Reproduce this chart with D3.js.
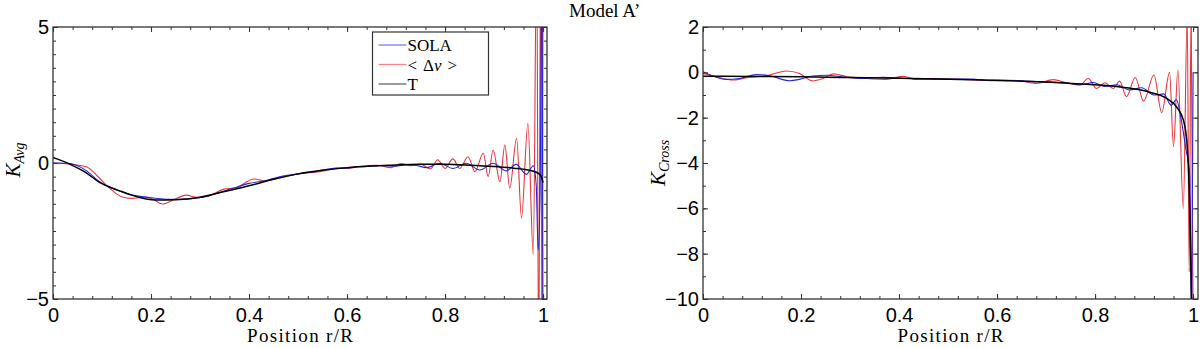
<!DOCTYPE html>
<html>
<head>
<meta charset="utf-8">
<script src="https://cdn.jsdelivr.net/npm/d3@7"></script>
<style>
  body { margin: 0; background: #fff; }
  svg { display: block; }
  .tick text { font-family: "Liberation Sans", Arial, sans-serif; font-size: 20px; fill: #000; }
  .tick line { stroke: #333; }
  .serif { font-family: "Liberation Serif", "DejaVu Serif", serif; fill: #000; }
</style>
</head>
<body>
<svg id="chart" width="1200" height="348"></svg>
<script>
// tick values
const xTicks = [0, 0.2, 0.4, 0.6, 0.8, 1];
const xMinor = d3.range(0, 1.001, 0.04);
const avgYTicks = [-5, 0, 5];
const avgYMinor = d3.range(-5, 5.01, 0.5);
const crossYTicks = [-10, -8, -6, -4, -2, 0, 2];
const crossYMinor = d3.range(-10, 2.01, 1);

const seriesNames = ['SOLA', '< Δν >', 'T'];
const seriesColors = ['#2424d8', '#e5363c', '#000000'];

// K_Avg kernels, [r/R, K]
const avgSola = [[0,0],[0.03,-0.01],[0.068,-0.28],[0.095,-0.69],[0.13,-0.99],[0.163,-1.18],[0.197,-1.27],
  [0.231,-1.33],[0.265,-1.33],[0.299,-1.28],[0.333,-1.12],[0.367,-0.93],[0.4,-0.75],[0.43,-0.66],[0.469,-0.48],
  [0.5,-0.4],[0.53,-0.33],[0.55,-0.26],[0.57,-0.2],[0.6,-0.19],[0.62,-0.14],[0.64,-0.13],[0.67,-0.09],[0.7,-0.12],
  [0.72,-0.06],[0.74,-0.08],[0.762,-0.17],[0.789,-0.01],[0.816,-0.2],[0.843,-0.01],[0.871,-0.26],[0.898,-0.01],
  [0.925,-0.29],[0.945,-0.05],[0.966,-0.42],[0.98,-0.1],[0.986,-0.8],[0.99,-3.2],[0.994,-0.9],[0.998,8],[1.0,-8]];
const avgDnu = [[0,0],[0.034,-0.04],[0.068,-0.14],[0.095,-0.56],[0.112,-0.87],[0.14,-1.24],[0.16,-1.3],[0.19,-1.26],
  [0.204,-1.33],[0.224,-1.51],[0.245,-1.36],[0.272,-1.18],[0.293,-1.26],[0.313,-1.24],[0.347,-0.97],[0.374,-0.91],
  [0.41,-0.59],[0.435,-0.66],[0.469,-0.5],[0.5,-0.4],[0.55,-0.3],[0.58,-0.18],[0.6,-0.2],[0.63,-0.12],[0.66,-0.08],
  [0.69,-0.17],[0.71,-0.02],[0.73,-0.1],[0.75,-0.04],[0.77,-0.22],[0.785,0.12],[0.8,-0.2],[0.816,0.15],[0.83,-0.2],
  [0.847,0.23],[0.861,-0.32],[0.878,0.36],[0.888,-0.5],[0.898,0.48],[0.912,-0.69],[0.922,0.66],[0.932,-0.93],
  [0.946,0.91],[0.956,-2.03],[0.969,1.46],[0.98,-3.38],[0.987,8],[0.991,-8],[0.995,8],[0.998,-8],[1.0,8]];
const avgT = [[0,0.2],[0.034,-0.04],[0.064,-0.32],[0.095,-0.71],[0.12,-0.92],[0.14,-1.05],[0.16,-1.18],[0.19,-1.32],
  [0.21,-1.36],[0.25,-1.35],[0.3,-1.26],[0.35,-1.05],[0.4,-0.84],[0.45,-0.6],[0.5,-0.4],[0.55,-0.27],[0.6,-0.17],
  [0.65,-0.11],[0.7,-0.07],[0.75,-0.05],[0.8,-0.05],[0.85,-0.08],[0.9,-0.13],[0.94,-0.19],[0.97,-0.26],
  [0.985,-0.33],[0.995,-0.45],[1.0,-0.72]];

// K_Cross kernels, [r/R, K]
const crossSola = [[0,0.03],[0.048,-0.31],[0.075,-0.27],[0.109,-0.1],[0.136,-0.15],[0.177,-0.37],[0.197,-0.31],
  [0.224,-0.16],[0.252,-0.13],[0.279,-0.19],[0.32,-0.27],[0.367,-0.22],[0.415,-0.27],[0.469,-0.3],[0.503,-0.3],
  [0.55,-0.3],[0.58,-0.36],[0.62,-0.35],[0.66,-0.38],[0.7,-0.42],[0.74,-0.46],[0.77,-0.55],[0.796,-0.45],
  [0.82,-0.62],[0.845,-0.55],[0.87,-0.78],[0.895,-0.68],[0.92,-1.0],[0.94,-0.95],[0.955,-1.45],[0.966,-1.2],
  [0.975,-2.0],[0.985,-3.35],[0.993,-4.5],[0.997,-11],[1.0,0]];
const crossDnu = [[0,-0.05],[0.027,-0.19],[0.061,-0.34],[0.095,-0.22],[0.129,-0.15],[0.17,0.06],[0.197,-0.05],
  [0.224,-0.38],[0.245,-0.27],[0.266,-0.07],[0.293,-0.19],[0.333,-0.27],[0.374,-0.31],[0.408,-0.18],[0.435,-0.31],
  [0.469,-0.27],[0.503,-0.3],[0.55,-0.33],[0.6,-0.37],[0.64,-0.36],[0.681,-0.49],[0.715,-0.32],[0.74,-0.45],
  [0.769,-0.56],[0.786,-0.27],[0.803,-0.71],[0.82,-0.46],[0.837,-0.71],[0.85,-0.39],[0.864,-1.07],[0.882,-0.23],
  [0.899,-1.27],[0.92,-0.12],[0.936,-1.78],[0.952,0.0],[0.96,-3.28],[0.969,0.1],[0.98,-6.0],[0.988,2.5],
  [0.992,-8.8],[0.996,3],[1.0,-11]];
const crossT = [[0,-0.17],[0.1,-0.18],[0.2,-0.2],[0.3,-0.23],[0.4,-0.26],[0.503,-0.3],[0.571,-0.34],[0.64,-0.38],
  [0.708,-0.44],[0.776,-0.52],[0.844,-0.63],[0.885,-0.75],[0.912,-0.88],[0.946,-1.15],[0.966,-1.52],[0.98,-2.1],
  [0.987,-3.0],[0.991,-4.5],[0.994,-6.7],[0.997,-10.5]];

const svg = d3.select('#chart');
const plotTop = 27, plotBottom = 299;
const xFmt = d => (d === 0 || d === 1) ? String(d) : d.toFixed(1);

function drawPanel(cfg) {
  const x = d3.scaleLinear().domain([0, cfg.xMax]).range([cfg.left, cfg.right]);
  const y = d3.scaleLinear().domain(cfg.yDomain).range([plotBottom, plotTop]);
  const g = svg.append('g');

  g.append('clipPath').attr('id', cfg.id)
    .append('rect')
    .attr('x', cfg.left).attr('y', plotTop)
    .attr('width', cfg.right - cfg.left).attr('height', plotBottom - plotTop);

  const line = d3.line()
    .x(d => x(d[0]))
    .y(d => y(d[1]))
    .curve(d3.curveMonotoneX);

  // red first, then blue, black on top
  const plot = g.append('g').attr('clip-path', `url(#${cfg.id})`);
  [1, 0, 2].forEach(idx => {
    plot.append('path')
      .datum(cfg.series[idx])
      .attr('fill', 'none')
      .attr('stroke', seriesColors[idx])
      .attr('stroke-width', idx === 2 ? 1.5 : 1.1)
      .attr('stroke-linejoin', 'round')
      .attr('d', line);
  });

  // minor ticks, all four sides
  const minor = [
    [d3.axisBottom(x).tickValues(xMinor), `translate(0,${plotBottom})`],
    [d3.axisTop(x).tickValues(xMinor), `translate(0,${plotTop})`],
    [d3.axisLeft(y).tickValues(cfg.yMinor), `translate(${cfg.left},0)`],
    [d3.axisRight(y).tickValues(cfg.yMinor), `translate(${cfg.right},0)`]
  ];
  minor.forEach(([ax, tr]) => {
    g.append('g').attr('transform', tr)
      .call(ax.tickSizeInner(-3).tickSizeOuter(0).tickFormat(''))
      .call(a => a.select('.domain').remove());
  });

  g.append('g').attr('transform', `translate(0,${plotBottom})`)
    .call(d3.axisBottom(x).tickValues(xTicks).tickSizeInner(-5).tickSizeOuter(0).tickPadding(9).tickFormat(xFmt))
    .call(a => a.select('.domain').remove());
  g.append('g').attr('transform', `translate(0,${plotTop})`)
    .call(d3.axisTop(x).tickValues(xTicks).tickSizeInner(-5).tickSizeOuter(0).tickFormat(''))
    .call(a => a.select('.domain').remove());
  g.append('g').attr('transform', `translate(${cfg.left},0)`)
    .call(d3.axisLeft(y).tickValues(cfg.yTicks).tickSizeInner(-5).tickSizeOuter(0).tickPadding(4))
    .call(a => a.select('.domain').remove());
  g.append('g').attr('transform', `translate(${cfg.right},0)`)
    .call(d3.axisRight(y).tickValues(cfg.yTicks).tickSizeInner(-5).tickSizeOuter(0).tickFormat(''))
    .call(a => a.select('.domain').remove());
  g.selectAll('g').attr('font-family', null).attr('font-size', null);

  g.append('rect')
    .attr('x', cfg.left).attr('y', plotTop)
    .attr('width', cfg.right - cfg.left).attr('height', plotBottom - plotTop)
    .attr('fill', 'none').attr('stroke', '#333').attr('stroke-width', 1.3);

  // axis titles
  g.append('text').attr('class', 'serif')
    .attr('x', (cfg.left + cfg.right) / 2).attr('y', 342)
    .attr('text-anchor', 'middle').attr('font-size', 19)
    .attr('textLength', 106).attr('lengthAdjust', 'spacing')
    .text('Position r/R');

  const yl = g.append('text').attr('class', 'serif')
    .attr('transform', `translate(${cfg.yLabelX},${cfg.yLabelY}) rotate(-90)`)
    .attr('text-anchor', 'middle').attr('font-style', 'italic');
  yl.append('tspan').attr('font-size', 21).text('K');
  yl.append('tspan').attr('font-size', 14).attr('dy', 4).text(cfg.sub);

  return { g, x, y };
}

const leftPanel = drawPanel({
  id: 'clipAvg', left: 53, right: 547, xMax: 1.008,
  yDomain: [-5, 5], yTicks: avgYTicks, yMinor: avgYMinor,
  series: [avgSola, avgDnu, avgT], sub: 'Avg', yLabelX: 20, yLabelY: 160
});

drawPanel({
  id: 'clipCross', left: 703, right: 1198, xMax: 1.01,
  yDomain: [-10, 2], yTicks: crossYTicks, yMinor: crossYMinor,
  series: [crossSola, crossDnu, crossT], sub: 'Cross', yLabelX: 665, yLabelY: 163
});

// legend in the left panel
const legend = leftPanel.g.append('g').attr('transform', 'translate(372.5,32)');
legend.append('rect')
  .attr('width', 116).attr('height', 63)
  .attr('fill', '#fff').attr('stroke', '#333').attr('stroke-width', 1.2);
seriesNames.forEach((name, i) => {
  const row = legend.append('g').attr('transform', `translate(0,${13 + i * 19.5})`);
  row.append('line')
    .attr('x1', 6).attr('x2', 34)
    .attr('stroke', seriesColors[i]).attr('stroke-opacity', 0.6).attr('stroke-width', 1.3);
  const t = row.append('text').attr('class', 'serif')
    .attr('x', 35).attr('y', 6).attr('font-size', 17);
  if (i === 1) {
    t.append('tspan').text('<');
    t.append('tspan').attr('dx', 6).text('Δ');
    t.append('tspan').attr('font-style', 'italic').text('ν');
    t.append('tspan').attr('dx', 6).text('>');
  } else {
    t.text(name);
  }
});

svg.append('text').attr('class', 'serif')
  .attr('x', 569).attr('y', 17).attr('font-size', 19)
  .text('Model A’');
</script>
</body>
</html>
